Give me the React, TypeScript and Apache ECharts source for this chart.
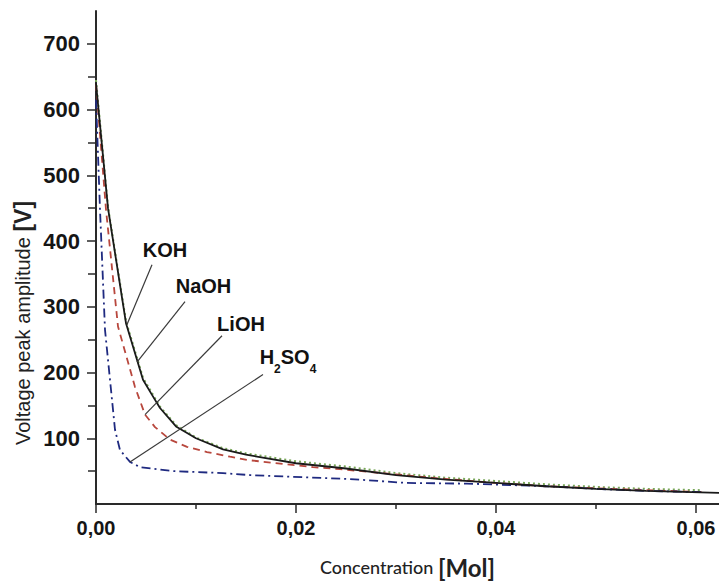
import React, { useEffect, useRef } from "react";
import * as echarts from "echarts";

// Axis ticks
const xMax = 0.0623;
const yMax = 750;
const xTicks = [0, 0.02, 0.04, 0.06];
const xMinorTicks = [0.01, 0.03, 0.05];
const yTicks = [100, 200, 300, 400, 500, 600, 700];
const yMinorTicks = [50, 150, 250, 350, 450, 550, 650];

// Series values [concentration (Mol), voltage peak amplitude (V)]
const kohData = [
  [0, 640], [0.0012, 450], [0.003, 275], [0.0047, 189], [0.0056, 166],
  [0.0064, 146], [0.008, 118], [0.01, 100], [0.0127, 83], [0.015, 75],
  [0.02, 62], [0.025, 54], [0.03, 44], [0.035, 37], [0.04, 32],
  [0.045, 27], [0.05, 23], [0.055, 20], [0.0623, 17],
];
const naohData = [
  [0, 645], [0.0012, 452], [0.003, 278], [0.0047, 192], [0.0064, 148],
  [0.008, 120], [0.01, 101], [0.0127, 85], [0.015, 77], [0.02, 65],
  [0.025, 57], [0.03, 47], [0.035, 40], [0.04, 35], [0.045, 30],
  [0.05, 26], [0.055, 23], [0.0605, 21],
];
const liohData = [
  [0, 639], [0.001, 448], [0.0022, 270], [0.0039, 178], [0.0049, 136],
  [0.0059, 117], [0.0074, 98], [0.0091, 87], [0.0111, 79], [0.0134, 72],
  [0.0151, 67], [0.0187, 61], [0.0217, 56], [0.0244, 53], [0.03, 45],
  [0.035, 38], [0.04, 32], [0.045, 27], [0.05, 24], [0.055, 21], [0.061, 18],
];
const h2so4Data = [
  [0, 615], [0.0004, 448], [0.0009, 265], [0.0019, 113], [0.0024, 82],
  [0.0034, 64], [0.0044, 56], [0.0077, 50], [0.0127, 47], [0.0154, 44],
  [0.0254, 38], [0.0311, 32], [0.0371, 31], [0.045, 27], [0.05, 23],
  [0.055, 20], [0.0605, 18],
];

// Annotations: label text, label centre, arrow tail (on curve), arrow tip
const annLabels = ["KOH", "NaOH", "LiOH", "{n|H}{s|2}{n|SO}{s|4}"];
const annLabelPos = [[0.0069, 387], [0.01075, 331], [0.0145, 274], [0.0192, 224]];
const annTail = [[0.0031, 273], [0.0041, 216], [0.0049, 136], [0.0034, 64]];
const annTip = [[0.0056, 364], [0.0089, 308], [0.0126, 256], [0.0167, 197]];

const fmtX = (v: number) => v.toFixed(2).replace(".", ",");

export default function App() {
  const ref = useRef<HTMLDivElement>(null);
  useEffect(() => {
    if (!ref.current) return;
    const chart = echarts.init(ref.current, null, { renderer: "svg" });
    const axisColor = "#2a2a2a";
    const option: any = {
      animation: false,
      backgroundColor: "#ffffff",
      grid: { left: 96, right: 0, top: 11, bottom: 80, containLabel: false },
      xAxis: [
        {
          type: "value",
          min: 0,
          max: xMax,
          position: "bottom",
          splitLine: { show: false },
          axisLine: { show: true, onZero: false, lineStyle: { color: axisColor, width: 2 } },
          axisTick: { show: true, customValues: xTicks, length: 9, lineStyle: { color: axisColor, width: 1.5 } },
          axisLabel: {
            show: true,
            customValues: xTicks,
            formatter: (v: number) => fmtX(v),
            margin: 14,
            fontSize: 20,
            fontWeight: "bold",
            fontFamily: "Liberation Sans, Arial, sans-serif",
            color: "#151515",
          },
          name: "{a|Concentration }{b|[Mol]}",
          nameLocation: "middle",
          nameGap: 51,
          nameTextStyle: {
            rich: {
              a: { fontSize: 18, fontFamily: "Lato, sans-serif", color: "#222", fontWeight: 500 },
              b: { fontSize: 24, fontFamily: "Lato, sans-serif", color: "#222", fontWeight: "bold" },
            },
          },
        },
        {
          type: "value",
          min: 0,
          max: xMax,
          position: "bottom",
          splitLine: { show: false },
          axisLine: { show: false, onZero: false },
          axisTick: { show: true, customValues: xMinorTicks, length: 5, lineStyle: { color: axisColor, width: 1.5 } },
          axisLabel: { show: false },
        },
      ],
      yAxis: [
        {
          type: "value",
          min: 0,
          max: yMax,
          splitLine: { show: false },
          axisLine: { show: true, onZero: false, lineStyle: { color: axisColor, width: 2 } },
          axisTick: { show: true, customValues: yTicks, length: 9, lineStyle: { color: axisColor, width: 1.5 } },
          axisLabel: {
            show: true,
            customValues: yTicks,
            margin: 16,
            fontSize: 22,
            fontWeight: "bold",
            fontFamily: "Liberation Sans, Arial, sans-serif",
            color: "#151515",
          },
        },
        {
          type: "value",
          min: 0,
          max: yMax,
          position: "left",
          splitLine: { show: false },
          axisLine: { show: false, onZero: false },
          axisTick: { show: true, customValues: yMinorTicks, length: 8, lineStyle: { color: axisColor, width: 1.5 } },
          axisLabel: { show: false },
        },
      ],
      graphic: [
        {
          type: "text",
          x: 23,
          y: 323,
          rotation: Math.PI / 2,
          style: {
            text: "{a|Voltage peak amplitude }{b|[V]}",
            align: "center",
            verticalAlign: "middle",
            rich: {
              a: { fontSize: 20, fontFamily: "Liberation Sans, Arial, sans-serif", fill: "#222" },
              b: { fontSize: 23, fontFamily: "Liberation Sans, Arial, sans-serif", fill: "#222", fontWeight: "bold" },
            },
          },
        },
      ],
      series: [
        {
          name: "NaOH",
          type: "line",
          data: naohData,
          showSymbol: false,
          lineStyle: { color: "#7aa85a", width: 2, type: [2, 3] },
          z: 2,
        },
        {
          name: "LiOH",
          type: "line",
          data: liohData,
          showSymbol: false,
          lineStyle: { color: "#b8473d", width: 1.8, type: [7, 5] },
          z: 3,
        },
        {
          name: "H2SO4",
          type: "line",
          data: h2so4Data,
          showSymbol: false,
          lineStyle: { color: "#1f2a80", width: 1.8, type: [9, 4, 2, 4] },
          z: 3,
        },
        {
          name: "KOH",
          type: "line",
          data: kohData,
          showSymbol: false,
          lineStyle: { color: "#1a1a1a", width: 1.8, type: "solid" },
          z: 4,
          markLine: {
            silent: true,
            symbol: ["none", "arrow"],
            symbolSize: [0, 9],
            lineStyle: { color: "#3a3a3a", width: 1.2, type: "solid" },
            label: { show: false },
            data: annTail.map((t, i) => [{ coord: t }, { coord: annTip[i] }]),
          },
          markPoint: {
            silent: true,
            symbol: "circle",
            symbolSize: 1,
            itemStyle: { color: "rgba(0,0,0,0)" },
            label: {
              show: true,
              position: "inside",
              color: "#111",
              fontSize: 20,
              fontWeight: "bold",
              fontFamily: "Liberation Sans, Arial, sans-serif",
              rich: {
                n: { fontSize: 20, fontWeight: "bold", color: "#111", fontFamily: "Liberation Sans, Arial, sans-serif", lineHeight: 24 },
                s: { fontSize: 12, fontWeight: "bold", color: "#111", fontFamily: "Liberation Sans, Arial, sans-serif", lineHeight: 12, padding: [24, 0, 0, 0] },
              },
            },
            data: annLabels.map((t, i) => ({ coord: annLabelPos[i], value: 0, label: { formatter: t } })),
          },
        },
      ],
    };
    chart.setOption(option);
    return () => chart.dispose();
  }, []);
  return (
    <div
      ref={ref}
      style={{ width: 719, height: 584, position: "absolute", left: 0, top: 0, background: "#fff" }}
    />
  );
}
